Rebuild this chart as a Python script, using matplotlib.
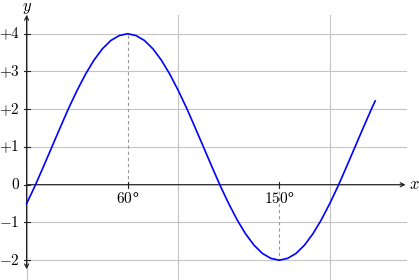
"""Sine-like curve with middle axes, pgfplots style."""

import matplotlib

matplotlib.use("Agg")

import matplotlib.pyplot as plt

plt.rcParams["mathtext.fontset"] = "cm"
plt.rcParams["font.family"] = "serif"
plt.rcParams["font.serif"] = ["DejaVu Serif"]

# curve samples (degrees, value)
x_deg = [0, 5, 10, 15, 20, 25, 30, 35, 40, 45, 50, 55, 60, 65, 70, 75, 80,
         85, 90, 95, 100, 105, 110, 115, 120, 125, 130, 135, 140, 145, 150,
         155, 160, 165, 170, 175, 180, 185, 190, 195, 200, 205, 207]
y_val = [-0.50, -0.03, 0.48, 1.00, 1.52, 2.03, 2.50, 2.93, 3.30, 3.60, 3.82,
         3.95, 4.00, 3.95, 3.82, 3.60, 3.30, 2.93, 2.50, 2.03, 1.52, 1.00,
         0.48, -0.03, -0.50, -0.93, -1.30, -1.60, -1.82, -1.95, -2.00, -1.95,
         -1.82, -1.60, -1.30, -0.93, -0.50, -0.03, 0.48, 1.00, 1.52, 2.03, 2.22]

y_ticks = [-2, -1, 0, 1, 2, 3, 4]
y_tick_labels = [r"$-2$", r"$-1$", r"$0$", r"$+1$", r"$+2$", r"$+3$", r"$+4$"]
x_grid = [0, 90, 180]
x_marks = [60, 150]
x_mark_labels = ["$60$\u00b0", "$150$\u00b0"]
mark_values = [4, -2]

fig = plt.figure(figsize=(4.19, 2.80), dpi=100)
ax = fig.add_axes([0, 0, 1, 1])
ax.set_xlim(-15.8, 233.0)
ax.set_ylim(-2.524, 4.893)
ax.axis("off")

grid_kw = dict(color="#c4c4c4", lw=0.8, zorder=1)
for yv in y_ticks:
    if yv != 0:
        ax.plot([0, 225], [yv, yv], **grid_kw)
for xv in x_grid:
    ax.plot([xv, xv], [-2.6, 4.5], **grid_kw)

# axes with arrows
ax.annotate("", xy=(0, 4.5), xytext=(0, -2.24),
            arrowprops=dict(arrowstyle="<->", lw=0.9, color="#222222",
                            shrinkA=0, shrinkB=0, mutation_scale=7), zorder=3)
ax.annotate("", xy=(225, 0), xytext=(0, 0),
            arrowprops=dict(arrowstyle="->", lw=0.9, color="#222222",
                            shrinkA=0, shrinkB=0, mutation_scale=7), zorder=3)

# ticks
for yv, lab in zip(y_ticks, y_tick_labels):
    ax.plot([-1.8, 1.8], [yv, yv], color="#222222", lw=0.8, zorder=3)
    ax.text(-4.0, yv, lab, ha="right", va="center", fontsize=11)

for xv, yv, lab in zip(x_marks, mark_values, x_mark_labels):
    ax.plot([xv, xv], [0, yv], color="#999999", lw=0.8, ls=(0, (3, 2.5)), zorder=2)
    ax.plot([xv, xv], [-0.08, 0.08], color="#222222", lw=0.8, zorder=3)
    ax.text(xv, -0.16, lab, ha="center", va="top", fontsize=11, zorder=1)

ax.plot(x_deg, y_val, color="#0000ff", lw=1.2, zorder=4)

ax.text(227.0, 0, r"$x$", ha="left", va="center", fontsize=12)
ax.text(0, 4.70, r"$y$", ha="center", va="center", fontsize=12)

fig.savefig("out.png", dpi=100)
